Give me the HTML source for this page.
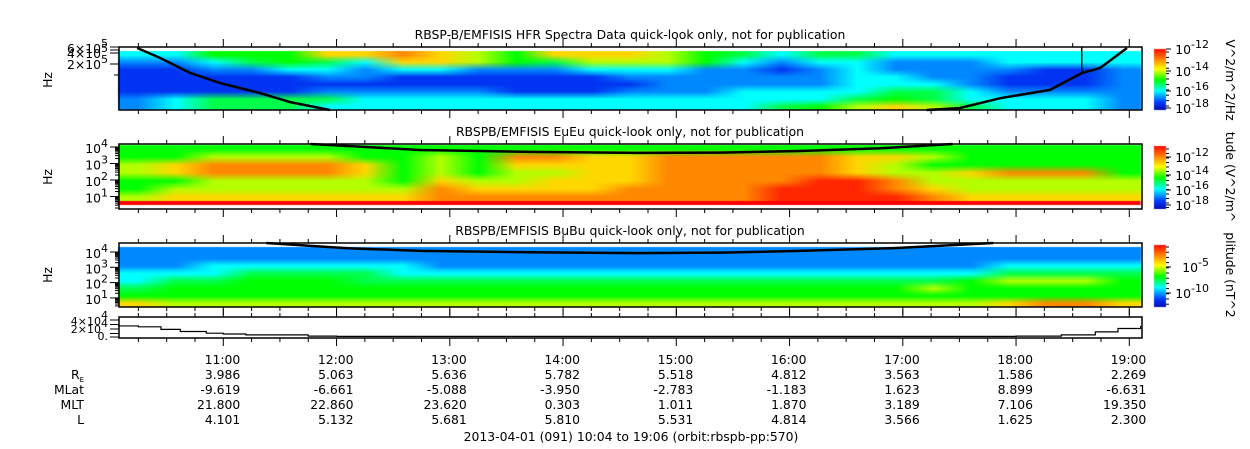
<!DOCTYPE html>
<html><head><meta charset="utf-8">
<style>
html,body{margin:0;padding:0;background:#fff;}
#wrap{position:relative;width:1250px;height:449px;overflow:hidden;font-family:"DejaVu Sans","Liberation Sans",sans-serif;}
canvas{position:absolute;left:0;top:0;}
svg{position:absolute;left:0;top:0;}
text{font-family:"DejaVu Sans","Liberation Sans",sans-serif;fill:#000;}
</style></head>
<body>
<div id="wrap">
<canvas id="cv" width="1250" height="449"></canvas>
<svg id="sv" width="1250" height="449" xmlns="http://www.w3.org/2000/svg"></svg>
</div>
<script>
// ---- time axis data ----
const tickHours = [11,12,13,14,15,16,17,18,19];
const tickLabels = ["11:00","12:00","13:00","14:00","15:00","16:00","17:00","18:00","19:00"];
const ephemRE   = ["3.986","5.063","5.636","5.782","5.518","4.812","3.563","1.586","2.269"];
const ephemMLat = ["-9.619","-6.661","-5.088","-3.950","-2.783","-1.183","1.623","8.899","-6.631"];
const ephemMLT  = ["21.800","22.860","23.620","0.303","1.011","1.870","3.189","7.106","19.350"];
const ephemL    = ["4.101","5.132","5.681","5.810","5.531","4.814","3.566","1.625","2.300"];
// ---- spectrogram coarse intensity grids (digit 0..9, 20-min columns from 10:04) ----
const hfrRows = [
"335557787657776543443333333",
"223454377654666532332223333",
"112233233222333221232222112",
"111112211111122222233221112",
"111111111111112222233321112",
"111112222211122233334432222",
"234444333333333333345433332",
"234443333333333334567643332"];
const euRows = [
"555555555555555555555555555",
"556666556588778888877655555",
"678888756577778888876555555",
"678888756566778888876678885",
"556666657667778888998666666",
"566666668777788889998766666",
"677777778888888889999877777"];
const buRows = [
"222222222222222222222222222",
"222222222222222222222222222",
"223333332222222222222223333",
"333444433333333333333334444",
"344555444444444444444456665",
"455555555555555555555655555",
"555555555555555555555555555",
"766666666666666666666667887"];
// ---- overlay line data (hours, log10 Hz) ----
const hfrLineT1 = [10.24,10.44,10.71,10.97,11.32,11.59,11.94];
const hfrLineF1 = [5.78,5.48,5.02,4.72,4.42,4.14,3.90];
const hfrLineT2 = [17.21,17.5,17.86,18.3,18.58,18.74,18.98];
const hfrLineF2 = [3.90,3.96,4.26,4.51,5.02,5.17,5.78];
const euLineT = [11.77,12.74,13.7,14.65,15.4,16.09,16.8,17.44];
const euLineF = [4.18,3.82,3.70,3.64,3.66,3.76,3.92,4.18];
const buLineT = [11.38,12.1,12.74,13.7,14.65,15.4,16.09,16.9,17.80];
const buLineF = [4.59,4.25,4.07,3.98,3.93,3.96,4.07,4.25,4.59];
// ---- orbit line (units of 1e4) ----
const orbT = [10.07,10.25,10.45,10.62,10.85,11.0,11.2,11.75,12.0,17.5,18.0,18.4,18.7,18.9,19.1];
const orbV = [2.6,2.4,1.8,1.3,0.9,0.7,0.5,0.2,0.15,0.15,0.2,0.5,1.2,2.0,2.6];

const X0=119, X1=1142;
function xT(h){return 223.3+(h-11)*113.25;}
const T0=10+4/60, T1=19+6/60;
const lvl=[0.03,0.13,0.22,0.33,0.45,0.5,0.62,0.72,0.82,0.95];
const stops=[[0,0,0,160],[0.15,0,60,255],[0.33,0,255,255],[0.5,0,255,0],[0.67,255,255,0],[0.83,255,128,0],[1,255,0,0]];
function jet(v){v=Math.max(0,Math.min(1,v));
 for(let i=1;i<stops.length;i++){if(v<=stops[i][0]){const a=stops[i-1],b=stops[i];const f=(v-a[0])/(b[0]-a[0]);
  return [1,2,3].map(k=>Math.round(a[k]+(b[k]-a[k])*f));}}
 return [255,0,0];}

const cv=document.getElementById('cv');const ctx=cv.getContext('2d');
function drawGrid(rows,y0,y1){
 const w=rows[0].length,h=rows.length;
 const sc=document.createElement('canvas');sc.width=w;sc.height=h;
 const sx=sc.getContext('2d');const im=sx.createImageData(w,h);
 for(let r=0;r<h;r++)for(let c=0;c<w;c++){const col=jet(lvl[+rows[r][c]]);const i=(r*w+c)*4;
  im.data[i]=col[0];im.data[i+1]=col[1];im.data[i+2]=col[2];im.data[i+3]=255;}
 sx.putImageData(im,0,0);
 ctx.imageSmoothingEnabled=true;
 const xa=xT(T0),xb=xT(T1);
 ctx.drawImage(sc,0,0,w,h,xa,y0,xb-xa,y1-y0);
}
drawGrid(hfrRows,51,110);
drawGrid(euRows,145,201);
ctx.fillStyle='rgb(255,0,0)';ctx.fillRect(xT(T0),201,xT(T1)-xT(T0),4);
drawGrid(buRows,247,307);
[[49,110],[146,209],[245,307]].forEach(b=>{
 for(let y=b[0];y<b[1];y++){const v=0.02+0.96*(b[1]-y)/(b[1]-b[0]);const c=jet(v);
  ctx.fillStyle=`rgb(${c[0]},${c[1]},${c[2]})`;ctx.fillRect(1154,y,12,1);}
});

const NS='http://www.w3.org/2000/svg';const sv=document.getElementById('sv');
function el(tag,attrs,parent){const e=document.createElementNS(NS,tag);for(const k in attrs)e.setAttribute(k,attrs[k]);(parent||sv).appendChild(e);return e;}
function txt(x,y,s,anchor,size,parent){const t=el('text',{x:x,y:y,'text-anchor':anchor||'start','font-size':size||12.4},parent);t.textContent=s;return t;}

let t;
t=txt(630,39,"RBSP-B/EMFISIS  HFR Spectra Data quick-look only, not for publication","middle",12.4);

t=txt(630,136,"RBSPB/EMFISIS  EuEu quick-look only, not for publication","middle",12.4);

t=txt(630,235,"RBSPB/EMFISIS  BuBu quick-look only, not for publication","middle",12.4);


const panels=[{y0:47,y1:110,n:'hfr'},{y0:144,y1:209,n:'eueu'},{y0:243,y1:307,n:'bubu'},{y0:317,y1:338,n:'orbit'}];
panels.forEach(p=>{
 const g=el('g',{});
 
 
 el('rect',{x:X0,y:p.y0,width:X1-X0,height:p.y1-p.y0,fill:'none',stroke:'#000','stroke-width':1.5},g);
 for(let m=0;m<=36;m++){const h=10+m/4;const x=xT(h);if(x<X0||x>X1)continue;
  const major=(m%4===0);const L=major?8:4;
  el('line',{x1:x,x2:x,y1:p.y1,y2:p.y1+L,stroke:'#000','stroke-width':1},g);
  el('line',{x1:x,x2:x,y1:p.y0,y2:p.y0-L,stroke:'#000','stroke-width':1},g);}
});

function ylabel(x,y,base,exp,size){const t=el('text',{x:x,y:y,'text-anchor':'end','font-size':size||12.4});
 t.textContent=base;const s=el('tspan',{dy:-6,'font-size':11},t);s.textContent=exp;return t;}
function ytick(y,len){el('line',{x1:X0-len,x2:X0,y1:y,y2:y,stroke:'#000','stroke-width':1});}
[47,50,53,64,75].forEach((y,i)=>ytick(y,i===4?5:9));
ylabel(108,53,"6×10","5");ylabel(108,58,"4×10","5");ylabel(108,69,"2×10","5");
const euDec=[147,163.5,180,196.5];
euDec.forEach((y,i)=>{ytick(y,9);ylabel(108,y+6,"10",String(4-i));
 for(let k=2;k<10;k++){const yy=y+16.5*(1-Math.log10(k));if(yy>144&&yy<209)ytick(yy,4);}});
const buDec=[252,267.3,282.6,297.9];
buDec.forEach((y,i)=>{ytick(y,9);ylabel(108,y+6,"10",String(4-i));
 for(let k=2;k<10;k++){const yy=y+15.3*(1-Math.log10(k));if(yy>243&&yy<307)ytick(yy,4);}});
[320,324.5,329,333.5,337].forEach(y=>ytick(y,9));
ylabel(108,325,"4×10","4",11);ylabel(108,333,"2×10","4",11);txt(108,340,"0.","end",11);
[[52,80],[52,177],[52,275]].forEach((p,i)=>{const t=el('text',{x:p[0],y:p[1],'text-anchor':'middle','font-size':12.4,transform:`rotate(-90 ${p[0]} ${p[1]})`});t.textContent='Hz';
 });

function curve(T,F,top,dec,ppd,name){
 const pts=T.map((h,i)=>[xT(h),top-(F[i]-dec)*ppd]);
 let d='M'+pts.map(p=>p[0].toFixed(1)+','+p[1].toFixed(1)).join(' L');
 const pth=el('path',{d:d,fill:'none',stroke:'#000','stroke-width':2.5,'stroke-linejoin':'round'});
 
 
}
curve(hfrLineT1,hfrLineF1,48,5.78,33,'hfr-fce-line-left');
curve(hfrLineT2,hfrLineF2,48,5.78,33,'hfr-fce-line-right');
el('line',{x1:xT(18.58),x2:xT(18.58),y1:47,y2:74,stroke:'#000','stroke-width':1.5});
curve(euLineT,euLineF,147,4,16.5,'eueu-fce-line');
curve(buLineT,buLineF,252,4,15.3,'bubu-fce-line');
let od='';orbT.forEach((h,i)=>{const x=xT(h),y=337-orbV[i]*4.25;
 if(i===0)od='M'+x+','+y;else{od+=' H'+x.toFixed(1)+' V'+y.toFixed(1);}});
const op=el('path',{d:od,fill:'none',stroke:'#000','stroke-width':1.2});


function cbl(y,exp){el('line',{x1:1166,x2:1171,y1:y,y2:y,stroke:'#000'});ylabel(1209,y+5,"10",exp);}
[49,71,91,108].forEach((y,i)=>cbl(y,["-12","-14","-16","-18"][i]));
[157,175,190,205].forEach((y,i)=>cbl(y,["-12","-14","-16","-18"][i]));
cbl(267,"-5");cbl(293,"-10");
for(let y=149;y<209;y+=4.5)el('line',{x1:1166,x2:1169,y1:y,y2:y,stroke:'#000'});
for(let y=247;y<307;y+=5.2)el('line',{x1:1166,x2:1169,y1:y,y2:y,stroke:'#000'});
for(let y=52;y<110;y+=5.4)el('line',{x1:1166,x2:1169,y1:y,y2:y,stroke:'#000'});
[[1226,80,"V^2/m^2/Hz"],[1226,177,"tude (V^2/m^"],[1226,275,"plitude (nT^2"]].forEach(p=>{
 const t=el('text',{x:p[0],y:p[1],'text-anchor':'middle','font-size':12.4,transform:`rotate(90 ${p[0]} ${p[1]})`});t.textContent=p[2];
 });

const rowsY=[364,379,394,409,424];
tickHours.forEach((h,i)=>{const x=xT(h)+17;
 const a=txt(x,rowsY[0],tickLabels[i],'end');
 txt(x,rowsY[1],ephemRE[i],'end');txt(x,rowsY[2],ephemMLat[i],'end');
 txt(x,rowsY[3],ephemMLT[i],'end');txt(x,rowsY[4],ephemL[i],'end');});
const re=txt(84,rowsY[1],"R",'end');const sub=el('tspan',{dy:3,'font-size':7},re);sub.textContent='E';
txt(84,rowsY[2],"MLat",'end');txt(84,rowsY[3],"MLT",'end');txt(84,rowsY[4],"L",'end');
const ft=txt(631,441,"2013-04-01 (091) 10:04 to 19:06 (orbit:rbspb-pp:570)",'middle');

</script>
</body></html>
